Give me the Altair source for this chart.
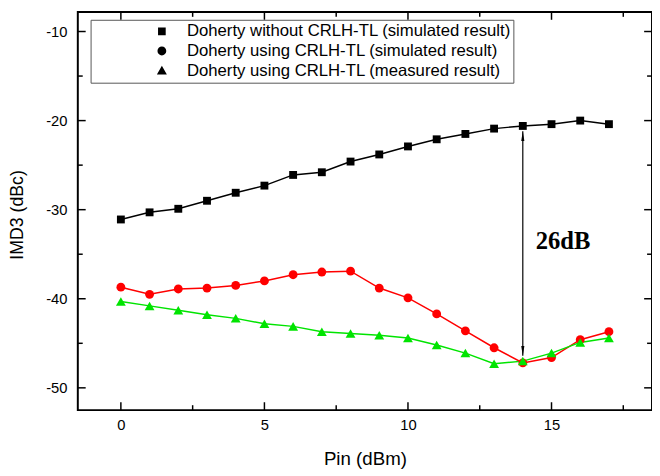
import altair as alt
import pandas as pd

# ---------------- data ----------------
pin = list(range(18))
black_sim = [-31.1, -30.3, -29.9, -29.0, -28.1, -27.3, -26.1, -25.8, -24.6,
             -23.8, -22.9, -22.1, -21.5, -20.9, -20.6, -20.4, -20.0, -20.4]
red_sim = [-38.7, -39.5, -38.9, -38.8, -38.5, -38.0, -37.3, -37.0, -36.9,
           -38.8, -39.9, -41.7, -43.6, -45.5, -47.2, -46.6, -44.6, -43.7]
green_meas = [-40.3, -40.8, -41.3, -41.8, -42.2, -42.8, -43.1, -43.7, -43.9,
              -44.1, -44.4, -45.2, -46.1, -47.3, -47.0, -46.1, -44.9, -44.4]
series_names = [
    "Doherty without CRLH-TL (simulated result)",
    "Doherty using CRLH-TL (simulated result)",
    "Doherty using CRLH-TL (measured result)",
]
series_colors = ["#000000", "#ff0000", "#00e400"]
series_shapes = ["square", "circle", "triangle-up"]
series_sizes = [64, 81, 100]

x_major = [0, 5, 10, 15]
x_minor = [2.5, 7.5, 12.5, 17.5]
y_major = [-50, -40, -30, -20, -10]
y_minor = [-45, -35, -25, -15]

arrow_x = [14]
arrow_top = [-21.2]
arrow_bottom = [-46.4]
ann_x = [15.4]
ann_y = [-33.5]
ann_text = ["26dB"]

# ---------------- build ----------------
W, H = 584, 405
FONT = "Liberation Sans"

rows = []
for name, vals in zip(series_names, [black_sim, red_sim, green_meas]):
    for xv, v in zip(pin, vals):
        rows.append({"pin": xv, "imd3": v, "series": name})
df = pd.DataFrame(rows)

xs = alt.Scale(domain=[-1.5, 18.5], nice=False, zero=False)
ys = alt.Scale(domain=[-52.5, -7.8], nice=False, zero=False)

x_axis = alt.Axis(
    values=x_major, title="Pin (dBm)", ticks=False, tickSize=0, domain=False, grid=False,
    labelFont=FONT, labelFontSize=15, labelColor="black", labelPadding=8,
    titleFont=FONT, titleFontSize=19, titleFontWeight="normal", titleColor="black",
    titleY=49, titleBaseline="middle")
y_axis = alt.Axis(
    values=y_major, title="IMD3 (dBc)", ticks=False, tickSize=0, domain=False, grid=False,
    labelFont=FONT, labelFontSize=15, labelColor="black", labelPadding=11,
    labelExpr="replace(datum.label, '\u2212', '-')",
    titleFont=FONT, titleFontSize=18, titleFontWeight="normal", titleColor="black",
    titleX=-61, titleY=206, titleBaseline="middle", titleAlign="center", titleAngle=270)


def X(field):
    return alt.X(field, scale=xs, axis=x_axis, title="Pin (dBm)")


def Y(field):
    return alt.Y(field, scale=ys, axis=y_axis, title="IMD3 (dBc)")


# inward ticks on all four sides
def xticks(vals, length):
    d = alt.Chart(pd.DataFrame({"v": vals}))
    bottom = d.mark_rule(color="black", strokeWidth=1.5).encode(
        x=X("v:Q"), y=alt.value(H), y2=alt.value(H - length))
    top = d.mark_rule(color="black", strokeWidth=1.5).encode(
        x=X("v:Q"), y=alt.value(0), y2=alt.value(length))
    return [bottom, top]


def yticks(vals, length):
    d = alt.Chart(pd.DataFrame({"v": vals}))
    left = d.mark_rule(color="black", strokeWidth=1.5).encode(
        y=Y("v:Q"), x=alt.value(0), x2=alt.value(length))
    right = d.mark_rule(color="black", strokeWidth=1.5).encode(
        y=Y("v:Q"), x=alt.value(W), x2=alt.value(W - length))
    return [left, right]


tick_layers = xticks(x_major, 8) + xticks(x_minor, 5) + yticks(y_major, 8) + yticks(y_minor, 5)

color_enc = alt.Color("series:N", scale=alt.Scale(domain=series_names, range=series_colors), legend=None)

base = alt.Chart(df)
lines = base.mark_line(strokeWidth=1.5).encode(x=X("pin:Q"), y=Y("imd3:Q"), color=color_enc)

point_layers = []
for name, col, shp, sz in zip(series_names, series_colors, series_shapes, series_sizes):
    point_layers.append(
        base.transform_filter(alt.datum.series == name)
        .mark_point(filled=True, opacity=1, strokeWidth=0, shape=shp, size=sz, color=col)
        .encode(x=X("pin:Q"), y=Y("imd3:Q"))
    )

# annotation arrow and label
arrow_df = pd.DataFrame({"x": arrow_x, "y1": arrow_top, "y2": arrow_bottom})
arrow_line = alt.Chart(arrow_df).mark_rule(color="black", strokeWidth=1.2).encode(
    x=X("x:Q"), y=Y("y1:Q"), y2="y2:Q")
heads_df = pd.DataFrame({"x": arrow_x * 2, "y": arrow_top + arrow_bottom, "dir": ["up", "down"]})
heads = alt.Chart(heads_df).mark_point(
    filled=True, opacity=1, color="black", size=100, strokeWidth=0).encode(
    x=X("x:Q"), y=Y("y:Q"),
    shape=alt.Shape("dir:N", scale=alt.Scale(domain=["up", "down"],
                    range=["M0,0L0.32,2L-0.32,2Z", "M0,0L0.32,-2L-0.32,-2Z"]), legend=None))
ann = alt.Chart(pd.DataFrame({"x": ann_x, "y": ann_y, "t": ann_text})).mark_text(
    font="Liberation Serif", fontSize=25, fontWeight="bold", color="black").encode(
    x=X("x:Q"), y=Y("y:Q"), text="t:N")

# legend carrier (points placed above the plot and clipped away)
legend_paths = [
    "M-1,0L1,0M-0.2,-0.2L0.2,-0.2L0.2,0.2L-0.2,0.2Z",
    "M-1,0L1,0M0.23,0A0.23,0.23,0,1,1,-0.23,0A0.23,0.23,0,1,1,0.23,0Z",
    "M-1,0L1,0M0,-0.25L0.26,0.2L-0.26,0.2Z",
]
leg = alt.Legend(
    title=None, orient="none", legendX=13, legendY=8, padding=2, clipHeight=19.5,
    rowPadding=0, labelFont=FONT, labelFontSize=17, labelColor="black", labelLimit=800,
    labelOffset=5, symbolSize=1521, symbolStrokeWidth=1.5, symbolOffset=50,
    strokeColor="#555555", fillColor="white",
    labelExpr="datum.label + '\u00a0\u00a0\u00a0'",
)
legend_layer = base.mark_point(filled=True, opacity=1, clip=True).encode(
    x=X("pin:Q"),
    y=alt.value(-60),
    fill=alt.Fill("series:N", scale=alt.Scale(domain=series_names, range=series_colors), legend=leg),
    stroke=alt.Stroke("series:N", scale=alt.Scale(domain=series_names, range=series_colors), legend=leg),
    shape=alt.Shape("series:N", scale=alt.Scale(domain=series_names, range=legend_paths), legend=leg),
)

chart = alt.layer(
    *tick_layers, lines, *point_layers, arrow_line, heads, ann, legend_layer
).resolve_scale(shape="independent").properties(
    width=W, height=H,
    autosize=alt.AutoSizeParams(type="none"),
    padding={"left": 71, "top": 0, "right": 0, "bottom": 61},
    background="white",
).configure_view(stroke="black", strokeWidth=2)

chart.save("out.html", embed_options={"renderer": "svg", "actions": False})
